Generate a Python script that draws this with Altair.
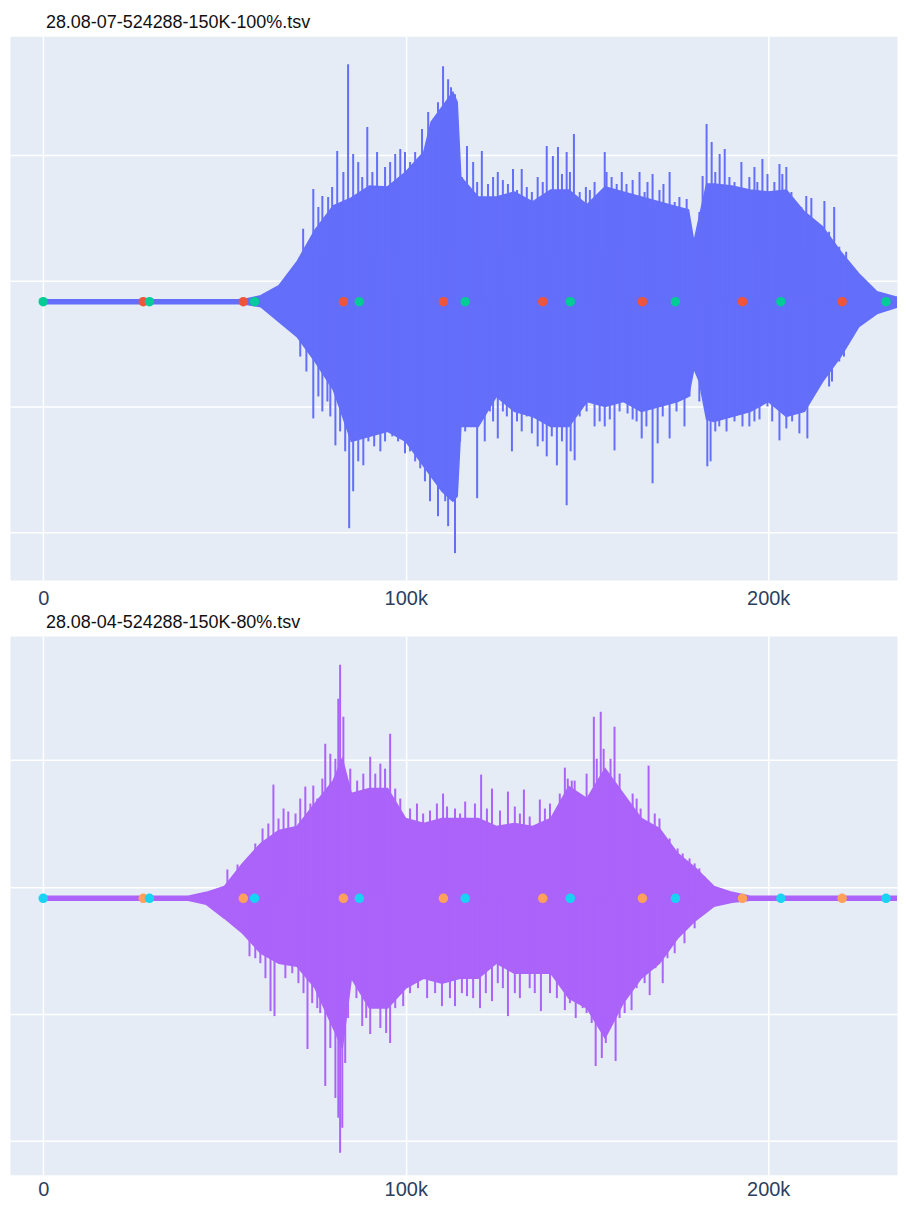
import altair as alt
import pandas as pd

# ---------------- data (x in samples, y in signal units) ----------------
# Panel 1: 28.08-07-524288-150K-100%.tsv
P1_BODY_X = [0, 20000, 40000, 55000, 60000, 65000, 70000, 75000, 80000, 85000, 90000,
             95000, 100000, 105000, 107000, 110000, 113000, 114200, 115200, 120000, 125000,
             130000, 135000, 140000, 145000, 150000, 155000, 160000, 165000, 170000, 175000,
             178000, 179500, 181000, 183000, 185000, 190000, 195000, 200000, 205000, 210000,
             215000, 220000, 225000, 230000, 235000, 242000]
P1_BODY_UP = [2, 2, 2, 2, 6, 16, 40, 72, 96, 104, 116,
              115, 130, 150, 180, 195, 210, 200, 125, 105, 105,
              110, 100, 112, 112, 97, 115, 110, 105, 100, 95,
              92, 60, 85, 118, 118, 116, 112, 110, 112, 90,
              75, 50, 28, 10, 5, 2]
P1_BODY_LO = [-2, -2, -2, -2, -5, -20, -35, -60, -88, -140, -135,
              -130, -140, -165, -175, -190, -200, -195, -125, -125, -95,
              -110, -115, -125, -125, -100, -105, -100, -110, -105, -100,
              -95, -67, -80, -118, -120, -115, -110, -100, -115, -110,
              -80, -55, -25, -12, -6, -2]
P1_SPIKE_UP_X = [71700, 74500, 77000, 81100, 84100, 85500, 89400, 94300, 97100, 98500,
                 99800, 101200, 104500, 106200, 108400, 110300, 111700, 113600, 116900, 118600,
                 121000, 125400, 129600, 132000, 136400, 138900, 140600, 142000, 144400, 146400,
                 152100, 154900, 155400, 159600, 164500, 168100, 172800, 177500, 181900, 183000,
                 184400, 186600, 188000, 192600, 196200, 198400, 203100, 205000, 210500, 211900,
                 215500, 218200,
                 75900, 78600, 79700, 82800, 86900, 88000, 90800, 92100, 95700, 102600,
                 107300, 108900, 112500, 115500, 119700, 122700, 124100, 126800, 128200, 130700,
                 133400, 134800, 137800, 143100, 145300, 148000, 149700, 150800, 153500, 156800,
                 158200, 160900, 162600, 165900, 166700, 170000, 171100, 174200, 175500, 181000,
                 185400, 189300, 190700, 194800, 197000, 199800, 201700, 203900, 206400, 207700,
                 209100, 213200, 216800, 219600, 221500, 222900, 224500]
P1_SPIKE_UP_Y = [73, 113, 106, 151, 238, 148, 175, 135, 148, 153,
                 150, 140, 173, 190, 165, 236, 223, 208, 156, 140,
                 151, 130, 133, 133, 125, 156, 146, 155, 150, 168,
                 120, 150, 130, 130, 130, 128, 130, 103, 126, 178,
                 160, 148, 153, 140, 135, 143, 138, 135, 106, 104,
                 101, 95,
                 95, 105, 115, 130, 140, 125, 130, 150, 140, 150,
                 175, 200, 215, 125, 120, 118, 125, 122, 118, 112,
                 115, 110, 120, 128, 130, 110, 115, 112, 100, 125,
                 118, 118, 122, 110, 120, 112, 118, 100, 105, 90,
                 130, 125, 120, 125, 120, 128, 120, 128, 110, 100,
                 95, 80, 70, 55, 50, 35, 30]
P1_SPIKE_LO_X = [74500, 77000, 80600, 81900, 84400, 85500, 88300, 93000, 99800, 104000,
                 106700, 108900, 110900, 111700, 113600, 119700, 121800, 125400, 129300, 132000,
                 134800, 136400, 138900, 141700, 144400, 146600, 152100, 157600, 165100, 168100,
                 169500, 172800, 176900, 183200, 184100, 188500, 192900, 203100, 205000, 208600,
                 210800, 216800,
                 70900, 72600, 75900, 78400, 79200, 83300, 86900, 89700, 91300, 94300,
                 96300, 97900, 101200, 102600, 105300, 115000, 116400, 117700, 123200, 124100,
                 126800, 127900, 130700, 133400, 137800, 140300, 143100, 145500, 148000, 149900,
                 153500, 154900, 156300, 159000, 161200, 162600, 163700, 166400, 170900, 174700,
                 178300, 181000, 185400, 186500, 190700, 194800, 196200, 197600, 199800, 201100,
                 206600, 212400, 214100, 217600, 219600, 220900]
P1_SPIKE_LO_Y = [-117, -110, -144, -130, -227, -190, -164, -150, -152, -167,
                 -200, -215, -200, -225, -252, -197, -140, -137, -150, -130,
                 -132, -145, -155, -164, -204, -159, -125, -149, -137, -182,
                 -142, -137, -125, -165, -160, -130, -125, -139, -127, -132,
                 -137, -85,
                 -55, -70, -95, -100, -115, -150, -160, -140, -145, -140,
                 -135, -140, -150, -160, -180, -140, -130, -125, -110, -120,
                 -110, -115, -120, -115, -140, -135, -140, -150, -115, -110,
                 -120, -125, -118, -110, -112, -118, -120, -125, -115, -110,
                 -95, -100, -130, -125, -120, -125, -120, -118, -105, -120,
                 -120, -90, -82, -80, -60, -55]

# Panel 2: 28.08-04-524288-150K-80%.tsv
P2_BODY_X = [0, 20000, 40000, 45000, 50000, 55000, 60000, 65000, 70000, 75000, 80000,
             82500, 85000, 90000, 95000, 100000, 105000, 110000, 115000, 120000, 125000,
             130000, 135000, 140000, 145000, 150000, 155000, 160000, 165000, 170000, 175000,
             180000, 185000, 190000, 195000, 220000, 242000]
P2_BODY_UP = [2, 2, 2, 6, 12, 35, 55, 68, 72, 95, 118,
              140, 105, 110, 110, 80, 75, 80, 80, 80, 72,
              75, 72, 80, 112, 100, 130, 105, 80, 70, 45,
              30, 12, 6, 2, 2, 2]
P2_BODY_LO = [-2, -2, -2, -6, -20, -35, -55, -65, -68, -90, -130,
              -150, -80, -110, -110, -90, -80, -85, -80, -80, -65,
              -75, -75, -75, -100, -110, -140, -105, -80, -65, -40,
              -22, -8, -4, -2, -2, -2]
P2_SPIKE_UP_X = [50800, 53600, 63500, 67600, 72300, 74500, 77800, 79200, 81900, 82800,
                 90200, 95700, 103100, 110300, 116400, 120800, 123800, 128200, 132600, 137000,
                 143900, 145800, 151900, 153800, 155400, 157600, 162600, 167000, 176400,
                 58500, 60500, 62100, 64900, 66300, 69600, 70900, 73700, 75600, 77000,
                 80600, 81400, 84700, 86600, 88300, 91600, 93000, 94300, 97100, 98500,
                 101200, 104800, 106700, 108600, 111400, 113600, 115000, 119100, 122400, 126000,
                 130100, 131500, 134200, 138400, 139800, 142500, 144700, 146600, 148000, 149900,
                 152700, 154600, 156500, 159000, 160400, 163700, 164800, 168700, 170000, 172800,
                 175000, 178300, 179700, 181000, 182400]
P2_SPIKE_UP_Y = [29, 34, 114, 87, 112, 113, 155, 145, 234, 182,
                 142, 165, 95, 105, 97, 124, 110, 107, 109, 99,
                 131, 118, 182, 187, 121, 172, 105, 133, 45,
                 55, 70, 75, 80, 90, 85, 100, 95, 100, 120,
                 140, 200, 130, 118, 125, 125, 135, 130, 110, 100,
                 90, 85, 88, 95, 92, 90, 85, 95, 90, 88,
                 92, 85, 82, 90, 95, 105, 120, 118, 100, 125,
                 140, 150, 140, 125, 100, 100, 90, 85, 80, 60,
                 50, 40, 35, 30, 22]
P2_SPIKE_LO_X = [56900, 62700, 63800, 72900, 76400, 77800, 80600, 81900, 83300, 88000,
                 90200, 95700, 99300, 110000, 116900, 120500, 123800, 128200, 137300, 143900,
                 146900, 151300, 152400, 154100, 157900, 162300, 167300, 170900,
                 58500, 59900, 61300, 66800, 68700, 70400, 71800, 74200, 75600, 79200,
                 81400, 82500, 84100, 86400, 89100, 93000, 94600, 97100, 101200, 103400,
                 105900, 108100, 112200, 113600, 115500, 118600, 122100, 125400, 126800, 130100,
                 131500, 134200, 135600, 139800, 141700, 145300, 148800, 149900, 155200, 156500,
                 159000, 160400, 163700, 165900, 168900, 172200, 174200, 176900, 179700]
P2_SPIKE_LO_Y = [-58, -113, -118, -151, -115, -188, -200, -255, -165, -128,
                 -136, -145, -108, -108, -98, -110, -103, -118, -113, -112,
                 -120, -125, -168, -160, -163, -112, -97, -85,
                 -60, -65, -80, -80, -75, -85, -95, -105, -110, -150,
                 -220, -230, -120, -100, -120, -130, -135, -110, -95, -90,
                 -100, -95, -100, -108, -95, -100, -95, -85, -90, -95,
                 -100, -90, -95, -95, -100, -105, -110, -115, -145, -120,
                 -120, -115, -90, -85, -70, -60, -55, -45, -30]

# event markers (same positions in both files)
MARK_A_X = [27600, 55200, 82800, 110400, 137800, 165300, 192900, 220400]
MARK_B_X = [0, 29300, 58300, 87200, 116400, 145400, 174400, 203500, 232500]

TITLES = ["28.08-07-524288-150K-100%.tsv", "28.08-04-524288-150K-80%.tsv"]
LINE_COLORS = ["#636EFA", "#AB63FA"]
MARK_A_COLORS = ["#EF553B", "#FFA15A"]
MARK_B_COLORS = ["#00CC96", "#19D3F3"]
Y_DOMAINS = [[-279, 266], [-277, 263]]
Y_GRID = [[147, 21, -105, -231], [139, 11, -116, -243]]
HEIGHTS = [545, 540]
LABEL_PAD = [8, 5]

FONT = "Liberation Sans, Arial, sans-serif"
X_DOMAIN = [-9170, 235530]


def panel(i, body_x, body_up, body_lo, sux, suy, slx, sly):
    body = pd.DataFrame({"x": body_x, "up": body_up, "lo": body_lo})
    tips = sux + slx
    spikes = pd.DataFrame({"x": tips, "tip": suy + sly, "base": [0] * len(tips)})
    ma = pd.DataFrame({"x": MARK_A_X, "y": [0] * len(MARK_A_X)})
    mb = pd.DataFrame({"x": MARK_B_X, "y": [0] * len(MARK_B_X)})

    xs = alt.Scale(domain=X_DOMAIN, nice=False, zero=False)
    ys = alt.Scale(domain=Y_DOMAINS[i], nice=False, zero=False)
    xax = alt.Axis(values=[0, 100000, 200000],
                   labelExpr="datum.value == 0 ? '0' : (datum.value / 1000) + 'k'",
                   grid=True, gridColor="white", gridWidth=1.5, ticks=False, domain=False,
                   labelFont=FONT, labelFontSize=20, labelColor="#2a3f5f",
                   labelPadding=LABEL_PAD[i], title=None)
    yax = alt.Axis(values=Y_GRID[i], grid=True, gridColor="white", gridWidth=1.5,
                   labels=False, ticks=False, domain=False, title=None)

    area = alt.Chart(body).mark_area(color=LINE_COLORS[i], interpolate="linear",
                                      opacity=1, clip=True,
                                      stroke=LINE_COLORS[i], strokeWidth=1.5).encode(
        x=alt.X("x:Q", scale=xs, axis=xax),
        y=alt.Y("up:Q", scale=ys, axis=yax),
        y2="lo:Q",
    )
    sp = alt.Chart(spikes).mark_rule(color=LINE_COLORS[i], strokeWidth=2, clip=True).encode(
        x="x:Q",
        y="base:Q",
        y2="tip:Q",
    )
    pa = alt.Chart(ma).mark_circle(color=MARK_A_COLORS[i], size=90, opacity=1).encode(
        x="x:Q", y="y:Q")
    pb = alt.Chart(mb).mark_circle(color=MARK_B_COLORS[i], size=90, opacity=1).encode(
        x="x:Q", y="y:Q")
    return alt.layer(area, sp, pa, pb).properties(
        width=889, height=HEIGHTS[i],
        title=alt.TitleParams(TITLES[i], anchor="start", dx=36, fontSize=18, font=FONT,
                              fontWeight="normal", color="#111111", offset=4),
    )


top = panel(0, P1_BODY_X, P1_BODY_UP, P1_BODY_LO, P1_SPIKE_UP_X, P1_SPIKE_UP_Y,
            P1_SPIKE_LO_X, P1_SPIKE_LO_Y)
bottom = panel(1, P2_BODY_X, P2_BODY_UP, P2_BODY_LO, P2_SPIKE_UP_X, P2_SPIKE_UP_Y,
               P2_SPIKE_LO_X, P2_SPIKE_LO_Y)

chart = alt.vconcat(top, bottom, spacing=4).properties(
    padding={"left": 1, "top": 4, "right": 0, "bottom": 0}
).configure_view(fill="#E5ECF6", stroke="transparent")

chart.save("out.html", embed_options={"renderer": "svg", "actions": False})
